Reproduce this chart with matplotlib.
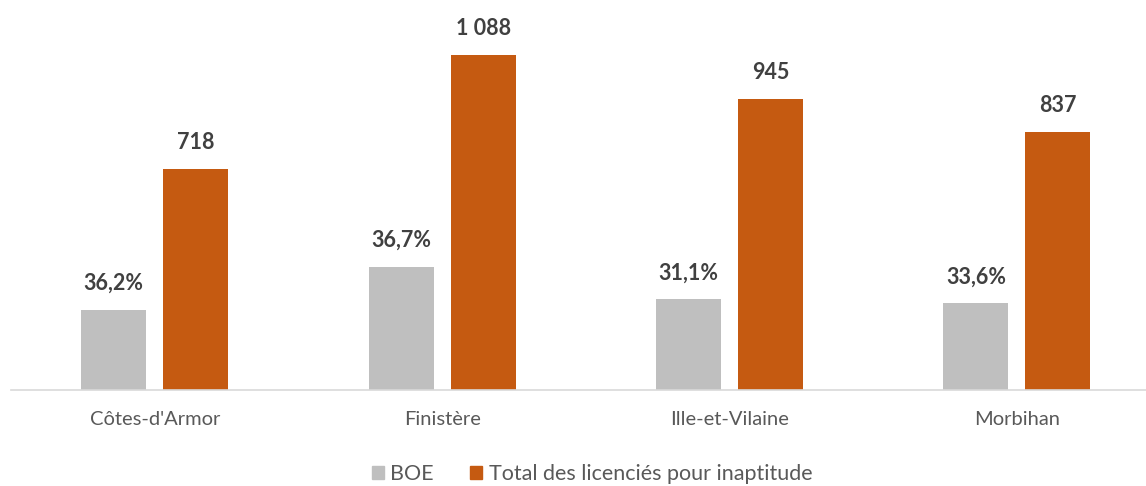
import matplotlib
matplotlib.use("Agg")
import matplotlib.pyplot as plt
import numpy as np
from matplotlib.patches import Patch

categories = ["Côtes-d'Armor", "Finistère", "Ille-et-Vilaine", "Morbihan"]
boe_counts = [260, 399, 294, 281]
boe_labels = ["36,2%", "36,7%", "31,1%", "33,6%"]
totals = [718, 1088, 945, 837]
total_labels = ["718", "1 088", "945", "837"]

W, H = 1146, 486
fig = plt.figure(figsize=(W / 100, H / 100), dpi=100)
plt.rcParams['font.family'] = ['Lato', 'DejaVu Sans']

base_y = 390  # px from top
left = 11
cat_px = 287.4
ax = fig.add_axes([left / W, (H - base_y) / H, (W - left) / W, base_y / H])
ax.set_xlim(-0.5, -0.5 + (W - left) / cat_px)
ax.set_ylim(0, base_y / 0.3083)

x = np.arange(len(categories))
bw = 65 / cat_px
off = 41 / cat_px
gray = "#bfbfbf"
orange = "#c55a11"
b1 = ax.bar(x - off, boe_counts, width=bw, color=gray)
b2 = ax.bar(x + off, totals, width=bw, color=orange)

for rects, labs in ((b1, boe_labels), (b2, total_labels)):
    for r, lab in zip(rects, labs):
        ax.annotate(lab, (r.get_x() + r.get_width() / 2, r.get_height()),
                    xytext=(0, 19), textcoords="offset points",
                    ha="center", va="center", fontsize=15.5, fontweight="bold",
                    color="#404040")

for s in ("top", "right", "left"):
    ax.spines[s].set_visible(False)
ax.spines["bottom"].set_color("#d9d9d9")
ax.spines["bottom"].set_linewidth(1.2)
ax.set_yticks([])
ax.set_xticks(x)
ax.set_xticklabels(categories, fontsize=14.5, color="#595959")
ax.tick_params(axis="x", length=0, pad=15)

handles = [Patch(color=gray), Patch(color=orange)]
fig.legend(handles, ["BOE", "Total des licenciés pour inaptitude"],
           loc="center", bbox_to_anchor=(592 / W, 1 - 474 / H), ncol=2,
           frameon=False, fontsize=15.5, labelcolor="#595959",
           handlelength=0.55, handleheight=0.55, handletextpad=0.3,
           columnspacing=1.7)

fig.savefig("out.png", dpi=100)
